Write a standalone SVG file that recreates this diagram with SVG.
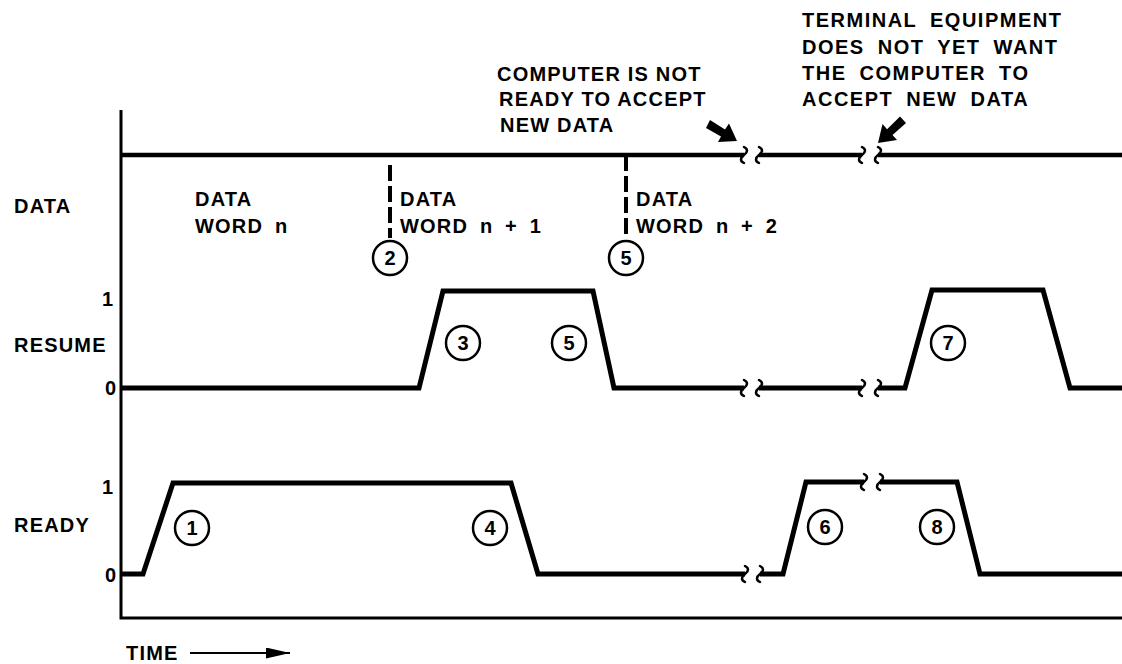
<svg xmlns="http://www.w3.org/2000/svg" width="1122" height="664" viewBox="0 0 1122 664">
<style>
text{font-family:"Liberation Sans",Arial,sans-serif;font-weight:bold;fill:#000}
.lbl{font-size:20px;letter-spacing:1.2px}
.ann{font-size:20px;letter-spacing:1.2px}
.ann2{font-size:20px;letter-spacing:1.5px;word-spacing:6px}
.dw{font-size:20px;letter-spacing:1.2px;word-spacing:5px}
.tick{font-size:20px}
.num{font-size:20px;text-anchor:middle}
.wave{fill:none;stroke:#000;stroke-width:5;stroke-linejoin:miter}
.dline{fill:none;stroke:#000;stroke-width:4.5}
.axis{fill:none;stroke:#000;stroke-width:3}
.dash{fill:none;stroke:#000;stroke-width:4;stroke-dasharray:16 5}
.sq{fill:none;stroke:#000;stroke-width:2.5;stroke-linecap:round}
.circ{fill:#fff;stroke:#000;stroke-width:2.5}
</style>
<defs>
<path id="sq" d="M0,-8 c4,2 4,5 0,8 c-4,3 -4,6 0,8"/>
<marker id="ah" viewBox="0 0 10 10" refX="10" refY="5" markerWidth="24" markerHeight="11" markerUnits="userSpaceOnUse" orient="auto" preserveAspectRatio="none">
<path d="M0,0 L10,5 L0,10 z" fill="#000"/>
</marker>
</defs>

<g id="axes">
<path class="axis" d="M121,110 V618 H1122"/>
</g>

<g id="labels">
<text class="lbl" x="14" y="213">DATA</text>
<text class="lbl" x="14" y="352">RESUME</text>
<text class="lbl" x="14" y="532">READY</text>
<text class="tick" x="102" y="306">1</text>
<text class="tick" x="105" y="395">0</text>
<text class="tick" x="102" y="494">1</text>
<text class="tick" x="105" y="582">0</text>
</g>

<g id="time">
<text class="lbl" x="126" y="660">TIME</text>
<line x1="190" y1="653" x2="290" y2="653" stroke="#000" stroke-width="2" marker-end="url(#ah)"/>
</g>

<g id="connectors">
<!-- DATA line -->
<path class="dline" d="M121,155 H744"/>
<path class="dline" d="M759,155 H862"/>
<path class="dline" d="M878,155 H1122"/>
<use href="#sq" class="sq" x="744" y="155"/>
<use href="#sq" class="sq" x="759" y="155"/>
<use href="#sq" class="sq" x="862" y="155"/>
<use href="#sq" class="sq" x="878" y="155"/>
<path class="dash" d="M390,165 V238"/>
<path class="dash" d="M626,155 V238"/>
<!-- RESUME -->
<path class="wave" d="M121,388 H419 L443,291 H593 L614,388 H744"/>
<path class="wave" d="M759,388 H862"/>
<path class="wave" d="M878,388 H905 L932,290 H1043 L1070,388 H1122"/>
<use href="#sq" class="sq" x="744" y="388"/>
<use href="#sq" class="sq" x="759" y="388"/>
<use href="#sq" class="sq" x="862" y="388"/>
<use href="#sq" class="sq" x="878" y="388"/>
<!-- READY -->
<path class="wave" d="M121,574 H143 L173,483 H511 L538,574 H745"/>
<path class="wave" d="M760,574 H783 L806,482 H864"/>
<path class="wave" d="M880,482 H957 L980,574 H1122"/>
<use href="#sq" class="sq" x="745" y="574"/>
<use href="#sq" class="sq" x="760" y="574"/>
<use href="#sq" class="sq" x="864" y="482"/>
<use href="#sq" class="sq" x="880" y="482"/>
<!-- annotation arrows -->
<polygon points="737,141 718,142 721,136.4 706,128 710,120 725,129.4 729,123.5" fill="#000"/>
<polygon points="878,143 897,140 892.5,135.1 906,123 900,116.5 887.1,129.3 882.5,124" fill="#000"/>
</g>

<g id="data-words">
<text class="dw" x="195" y="206">DATA</text>
<text class="dw" x="195" y="233">WORD n</text>
<text class="dw" x="400" y="206">DATA</text>
<text class="dw" x="400" y="233">WORD n + 1</text>
<text class="dw" x="636" y="206">DATA</text>
<text class="dw" x="636" y="233">WORD n + 2</text>
</g>

<g id="note-computer">
<text class="ann" x="497" y="81">COMPUTER IS NOT</text>
<text class="ann" x="499" y="106">READY TO ACCEPT</text>
<text class="ann" x="500" y="132">NEW DATA</text>
</g>
<g id="note-terminal">
<text class="ann2" x="802" y="27">TERMINAL EQUIPMENT</text>
<text class="ann2" x="802" y="54">DOES NOT YET WANT</text>
<text class="ann2" x="802" y="80">THE COMPUTER TO</text>
<text class="ann2" x="802" y="106">ACCEPT NEW DATA</text>
</g>

<g id="c1"><circle class="circ" cx="192" cy="528" r="17"/><text class="num" x="192" y="535">1</text></g>
<g id="c2"><circle class="circ" cx="390" cy="258" r="17"/><text class="num" x="390" y="265">2</text></g>
<g id="c3"><circle class="circ" cx="463" cy="343" r="17"/><text class="num" x="463" y="350">3</text></g>
<g id="c4"><circle class="circ" cx="490" cy="528" r="17"/><text class="num" x="490" y="535">4</text></g>
<g id="c5a"><circle class="circ" cx="626" cy="258" r="17"/><text class="num" x="626" y="265">5</text></g>
<g id="c5b"><circle class="circ" cx="569" cy="343" r="17"/><text class="num" x="569" y="350">5</text></g>
<g id="c6"><circle class="circ" cx="825" cy="527" r="17"/><text class="num" x="825" y="534">6</text></g>
<g id="c7"><circle class="circ" cx="948" cy="343" r="17"/><text class="num" x="948" y="350">7</text></g>
<g id="c8"><circle class="circ" cx="937" cy="527" r="17"/><text class="num" x="937" y="534">8</text></g>
</svg>
